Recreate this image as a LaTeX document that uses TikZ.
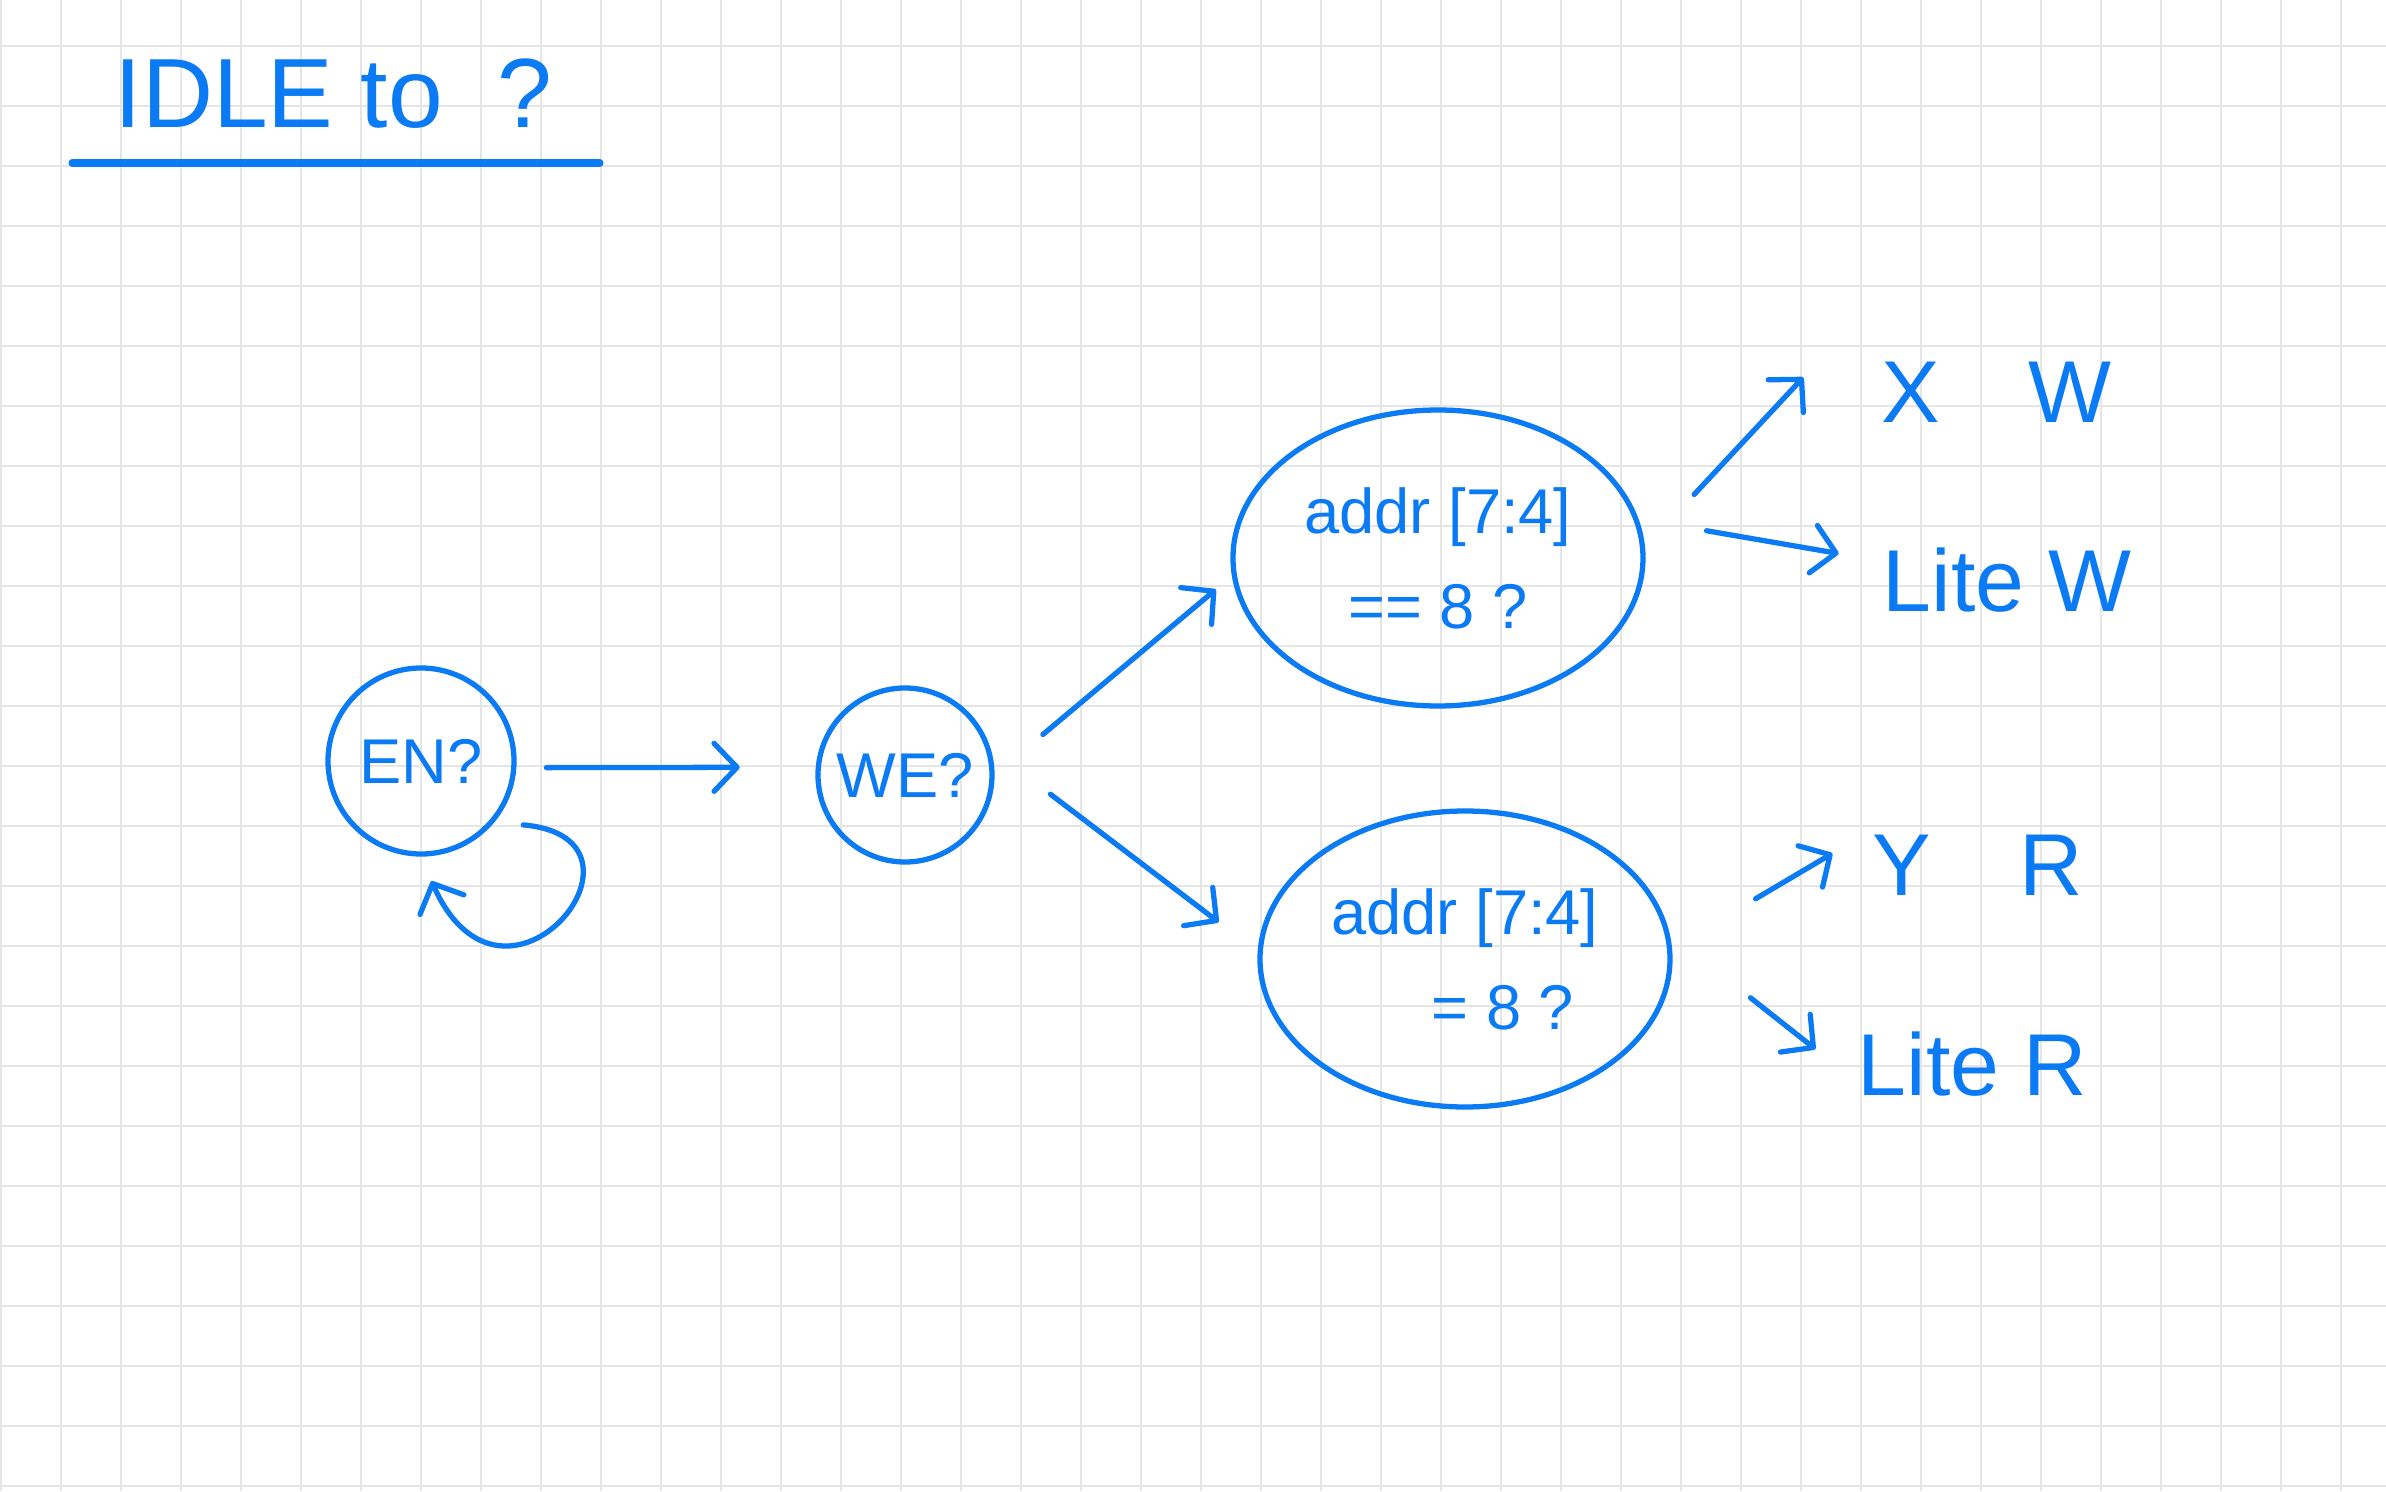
\documentclass[tikz,border=0pt]{standalone}
\usepackage{fontspec}
\setmainfont{Liberation Sans}
\usetikzlibrary{arrows.meta,shapes.geometric}
\definecolor{penblue}{RGB}{10,122,245}
\definecolor{gridgray}{RGB}{229,229,229}
\begin{document}
\begin{tikzpicture}[
    ink/.style = {draw=penblue, line width=1.5pt},
    arr/.style = {penblue, line width=1.5pt, line cap=round,
        -{Straight Barb[length=2.3mm,width=4.8mm,round]}},
    state/.style = {circle, ink, inner sep=0pt, text=penblue,
        font=\fontsize{18}{22}\selectfont},
    cond/.style = {ellipse, ink, inner sep=0pt, text=penblue, align=center,
        minimum width=4.1cm, minimum height=2.96cm,
        font=\fontsize{18}{27}\selectfont},
    result/.style = {anchor=west, inner sep=0pt, text=penblue,
        font=\fontsize{25}{30}\selectfont},
    gridline/.style = {draw=gridgray, line width=0.6pt}]

% Paper
\fill[white] (0,0) rectangle (23.86,14.91);
\useasboundingbox (0,0) rectangle (23.86,14.91);
\foreach \gx in {0,...,39}
    \draw[gridline] (0.01+0.6*\gx,0) -- (0.01+0.6*\gx,14.91);
\foreach \gy in {0,...,24}
    \draw[gridline] (0,0.05+0.6*\gy) -- (23.86,0.05+0.6*\gy);

% Title
\node[result, font=\fontsize{28}{32}\selectfont] (title) at (1.14,13.97) {IDLE to~~?};
\draw[penblue, line width=2pt, line cap=round] (0.72,13.28) -- (6.00,13.28);

% States
\node[state, minimum size=1.86cm] (EN) at (4.21,7.30) {EN?};
\node[state, minimum size=1.74cm] (WE) at (9.05,7.16) {WE?};

% Address checks
\node[cond] (addrW) at (14.38,9.33) {addr [7:4]\\== 8 ?};
\node[cond] (addrR) at (14.65,5.32) {addr [7:4]\\\hspace*{1.2em}= 8 ?};

% Results
\node[result] (XW) at (18.81,10.99) {X\quad W};
\node[result] (LiteW) at (18.82,9.11) {Lite W};
\node[result] (YR) at (18.72,6.26) {Y\quad R};
\node[result] (LiteR) at (18.57,4.27) {Lite R};

% Arrows
\draw[arr, shorten <=0.3cm, shorten >=0.76cm] (EN.-4) -- (WE.175);
\draw[arr] ([shift={(-32:0.25)}]EN.-32) .. controls +(-5:1.5) and +(-66:1.8) .. ([shift={(-85:0.25)}]EN.-85);
\draw[arr, shorten <=0.63cm, shorten >=0.21cm] (WE.east) -- (addrW.185);
\draw[arr, shorten <=0.75cm, shorten >=0.49cm] (WE.17) -- (addrR.178);
\draw[arr, shorten <=0.72cm, shorten >=1.14cm] (addrW.3) -- ([yshift=9.8mm]XW.west);
\draw[arr, shorten <=0.69cm, shorten >=0.44cm] (addrW.11) -- ([yshift=1.9mm]LiteW.west);
\draw[arr, shorten <=0.97cm, shorten >=0.46cm] (addrR.3) -- ([yshift=3.5mm]YR.west);
\draw[arr, shorten <=1.03cm, shorten >=0.53cm] (addrR.7) -- ([yshift=-1.8mm]LiteR.west);
\end{tikzpicture}
\end{document}
